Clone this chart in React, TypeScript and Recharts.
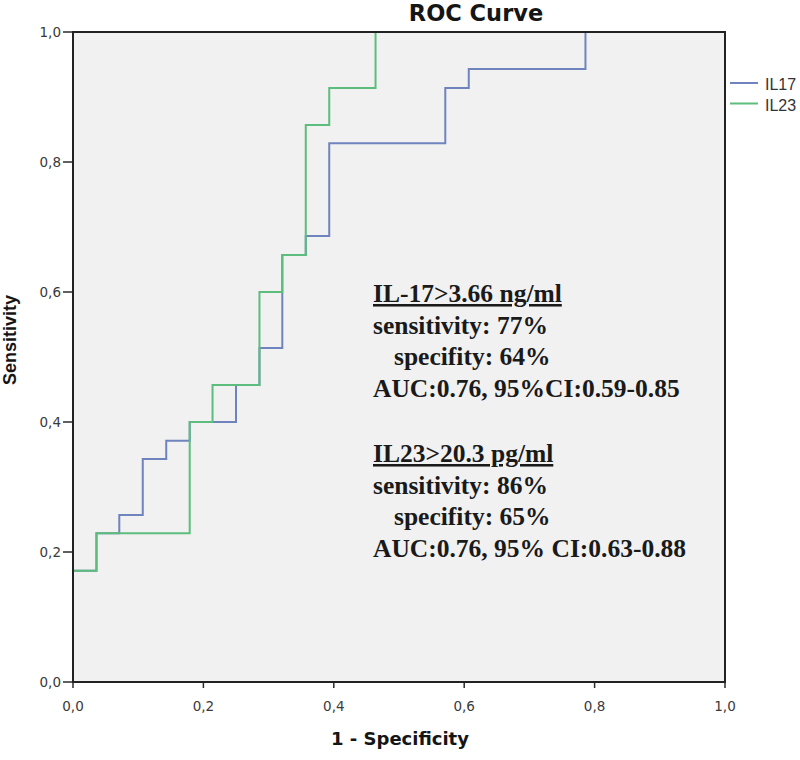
import React from 'react';
import {
  LineChart,
  Line,
  XAxis,
  YAxis,
  CartesianGrid,
  ReferenceArea,
} from 'recharts';

// ROC points (1 - specificity, sensitivity)
const il17Fpr = [0, 0, 0.036, 0.071, 0.107, 0.143, 0.179, 0.25, 0.286, 0.321, 0.357, 0.393, 0.571, 0.607, 0.786, 1];
const il17Tpr = [0, 0.171, 0.229, 0.257, 0.343, 0.371, 0.4, 0.457, 0.514, 0.657, 0.686, 0.829, 0.914, 0.943, 1, 1];

const il23Fpr = [0, 0, 0.036, 0.179, 0.214, 0.286, 0.321, 0.357, 0.393, 0.464, 1];
const il23Tpr = [0, 0.171, 0.229, 0.4, 0.457, 0.6, 0.657, 0.857, 0.914, 1, 1];

const axisTicks = [0, 0.2, 0.4, 0.6, 0.8, 1];

const seriesNames = ['IL17', 'IL23'];
const seriesColors = ['#6f83bd', '#5cbd7c'];

const il17Notes = ['sensitivity: 77%', 'specifity: 64%', 'AUC:0.76, 95%CI:0.59-0.85'];
const il23Notes = ['sensitivity: 86%', 'specifity: 65%', 'AUC:0.76, 95% CI:0.63-0.88'];

const toPoints = (xs: number[], ys: number[]) => xs.map((x, i) => ({ x, y: ys[i] }));

const fmt = (v: number) => v.toFixed(1).replace('.', ',');

const SANS = '"DejaVu Sans", sans-serif';
const ARIAL = '"Liberation Sans", Arial, sans-serif';
const SERIF = '"Liberation Serif", "Times New Roman", serif';

export default function App() {
  const il17Data = toPoints(il17Fpr, il17Tpr);
  const il23Data = toPoints(il23Fpr, il23Tpr);

  const noteBlock = (head: string, lines: string[], top: number) => (
    <g fontFamily={SERIF} fontWeight="bold" fontSize={25.5} fill="#1a1a1a">
      <text x={373} y={top} style={{ textDecoration: 'underline', textDecorationThickness: '3px' }}>
        {head}
      </text>
      {lines.map((t, i) => (
        <text key={t} x={i === 1 ? 394 : 373} y={top + 31.6 * (i + 1)}>
          {t}
        </text>
      ))}
    </g>
  );

  return (
    <div style={{ position: 'absolute', left: 0, top: 0, width: 800, height: 760, background: '#fff' }}>
      <LineChart
        width={800}
        height={760}
        margin={{ top: 32, right: 75, bottom: 38, left: 0 }}
      >
        <CartesianGrid fill="#f1f1f1" horizontal={false} vertical={false} />
        <XAxis
          type="number"
          dataKey="x"
          domain={[0, 1]}
          ticks={axisTicks}
          tickFormatter={fmt}
          height={40}
          axisLine={false}
          tickSize={6}
          tickMargin={13}
          tickLine={{ stroke: '#2b2b2b', strokeWidth: 1.5 }}
          tick={{ fill: '#3a3a3a', fontSize: 13.5, fontFamily: SANS }}
          allowDataOverflow
        />
        <YAxis
          type="number"
          domain={[0, 1]}
          ticks={axisTicks}
          tickFormatter={fmt}
          width={73}
          axisLine={false}
          tickSize={10}
          tickMargin={2}
          tickLine={{ stroke: '#2b2b2b', strokeWidth: 1.5 }}
          tick={{ fill: '#3a3a3a', fontSize: 13.5, fontFamily: SANS }}
          allowDataOverflow
        />
        <Line
          data={il17Data}
          dataKey="y"
          type="stepAfter"
          stroke={seriesColors[0]}
          strokeWidth={2}
          dot={false}
          isAnimationActive={false}
        />
        <Line
          data={il23Data}
          dataKey="y"
          type="stepAfter"
          stroke={seriesColors[1]}
          strokeWidth={2}
          dot={false}
          isAnimationActive={false}
        />
        {/* plot frame, drawn over the curves */}
        <ReferenceArea
          x1={0}
          x2={1}
          y1={0}
          y2={1}
          fill="none"
          fillOpacity={0}
          stroke="#222"
          strokeWidth={2}
          strokeOpacity={1}
          ifOverflow="visible"
          zIndex={1000}
        />
      </LineChart>

      <svg
        width={800}
        height={760}
        style={{ position: 'absolute', left: 0, top: 0, pointerEvents: 'none' }}
      >
        <text x={476} y={21} textAnchor="middle" fontFamily={SANS} fontWeight="bold" fontSize={22.5} fill="#151515">
          ROC Curve
        </text>
        <text x={400} y={745} textAnchor="middle" fontFamily={SANS} fontWeight="bold" fontSize={18} fill="#151515">
          1 - Specificity
        </text>
        <text
          x={16}
          y={340}
          textAnchor="middle"
          transform="rotate(-90 16 340)"
          fontFamily={ARIAL}
          fontWeight="bold"
          fontSize={18}
          fill="#151515"
        >
          Sensitivity
        </text>

        {seriesNames.map((name, i) => (
          <g key={name}>
            <line x1={730} x2={758} y1={83 + 20.5 * i} y2={83 + 20.5 * i} stroke={seriesColors[i]} strokeWidth={2} />
            <text x={765} y={90 + 21 * i} fontFamily={ARIAL} fontSize={16} fill="#333">
              {name}
            </text>
          </g>
        ))}

        {noteBlock('IL-17>3.66 ng/ml', il17Notes, 302)}
        {noteBlock('IL23>20.3 pg/ml', il23Notes, 462)}
      </svg>
    </div>
  );
}
